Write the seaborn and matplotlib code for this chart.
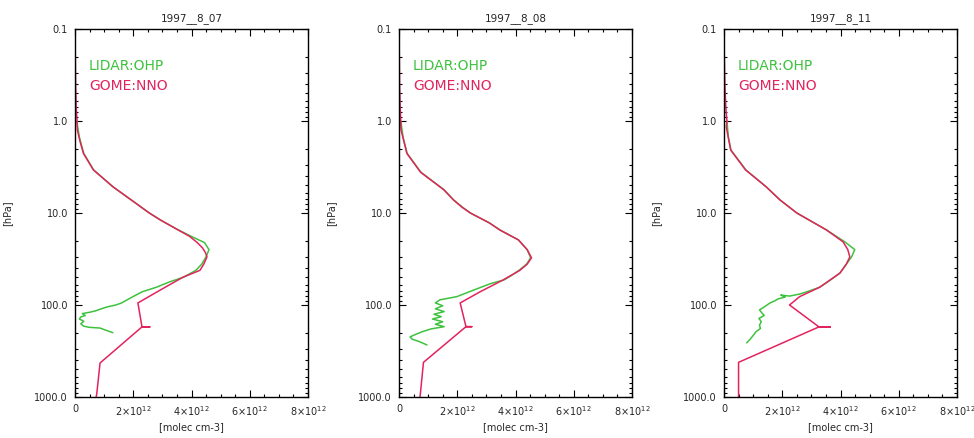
import numpy as np
import pandas as pd
import matplotlib
matplotlib.use('Agg')
import matplotlib.pyplot as plt
import seaborn as sns
from matplotlib.ticker import LogLocator, NullFormatter, MultipleLocator

# dates of the three profiles
dates = ['1997__8_07', '1997__8_08', '1997__8_11']

# GOME:NNO profiles (pressure hPa, ozone number density in 1e12 molec cm-3)
gome_p_0807 = [0.1, 0.2, 0.4, 0.7, 1.0, 1.25, 1.7, 2.25, 3.4, 5.2, 7.8, 10, 12, 18, 21, 24, 27, 30,
               36, 42, 50, 69, 95, 173, 173, 173, 427, 905, 1000]
gome_v_0807 = [0.0, 0.01, 0.02, 0.04, 0.07, 0.08, 0.18, 0.29, 0.63, 1.31, 2.08, 2.55, 2.95, 3.94, 4.2,
               4.38, 4.48, 4.53, 4.42, 4.29, 3.70, 2.92, 2.16, 2.30, 2.57, 2.30, 0.86, 0.75, 0.73]

gome_p_0808 = [0.1, 0.2, 0.4, 0.7, 1.0, 1.25, 2.25, 3.6, 5.6, 7.2, 8.6, 10, 12.8, 15.3, 19.6, 25,
               30.7, 36, 42, 53.5, 72, 95, 172, 172, 172, 420, 950, 1000]
gome_v_0808 = [0.0, 0.01, 0.02, 0.04, 0.06, 0.07, 0.27, 0.74, 1.54, 1.87, 2.15, 2.45, 3.1, 3.46, 4.1,
               4.4, 4.55, 4.4, 4.15, 3.57, 2.78, 2.1, 2.3, 2.5, 2.3, 0.84, 0.73, 0.72]

gome_p_0811 = [0.1, 0.2, 0.4, 0.7, 1.0, 1.17, 2.07, 3.4, 5.2, 7.2, 10, 15.3, 20.6, 25, 30, 36, 45,
               64, 81, 100, 173, 173, 173, 420, 1000]
gome_v_0811 = [0.0, 0.01, 0.03, 0.06, 0.1, 0.08, 0.23, 0.74, 1.45, 1.92, 2.5, 3.52, 4.09, 4.25, 4.32,
               4.2, 3.98, 3.29, 2.6, 2.25, 3.26, 3.65, 3.26, 0.5, 0.5]

# LIDAR:OHP profiles
lidar_p_0807 = [1.0, 1.5, 2.25, 3.4, 5.2, 7.8, 10, 12, 15, 18, 21, 25, 30, 36, 42, 50, 56, 64, 72,
                84, 95, 100, 105, 110, 116, 120, 124, 130, 135, 142, 150, 160, 170, 175, 178, 190, 200]
lidar_v_0807 = [0.06, 0.15, 0.30, 0.64, 1.30, 2.08, 2.55, 2.95, 3.5, 4.0, 4.45, 4.6, 4.5, 4.35, 4.15,
                3.72, 3.25, 2.8, 2.3, 1.9, 1.6, 1.4, 1.1, 0.9, 0.7, 0.5, 0.25, 0.35, 0.2, 0.15, 0.3,
                0.2, 0.3, 0.5, 0.86, 1.1, 1.3]

lidar_p_0808 = [1.0, 1.5, 2.25, 3.6, 5.6, 7.2, 8.6, 10, 12.8, 15.3, 19.6, 25, 30.7, 36, 42, 48, 53.5,
                58.6, 68.7, 81, 88, 95, 102, 110, 118, 126, 134, 142, 152, 162, 172, 182, 195, 210,
                222, 235, 250, 272]
lidar_v_0808 = [0.06, 0.14, 0.28, 0.75, 1.55, 1.87, 2.17, 2.45, 3.1, 3.47, 4.1, 4.4, 4.52, 4.38, 4.12,
                3.85, 3.6, 3.14, 2.57, 1.99, 1.40, 1.25, 1.50, 1.25, 1.55, 1.20, 1.45, 1.15, 1.50,
                1.25, 1.55, 1.10, 0.80, 0.55, 0.38, 0.45, 0.70, 0.96]

lidar_p_0811 = [1.0, 1.5, 2.07, 3.4, 5.2, 7.2, 10, 15.3, 20.6, 25, 30, 36, 45, 55, 64, 70, 76, 80, 78,
                82, 86, 90, 95, 104, 113, 122, 130, 140, 152, 165, 180, 195, 215, 235, 258]
lidar_v_0811 = [0.1, 0.15, 0.24, 0.75, 1.45, 1.92, 2.5, 3.52, 4.15, 4.49, 4.38, 4.2, 3.98, 3.6, 3.29,
                2.95, 2.6, 2.25, 1.95, 2.1, 1.85, 1.75, 1.58, 1.40, 1.22, 1.30, 1.38, 1.20, 1.28,
                1.22, 1.25, 1.10, 1.00, 0.90, 0.78]

gome_p = [gome_p_0807, gome_p_0808, gome_p_0811]
gome_v = [gome_v_0807, gome_v_0808, gome_v_0811]
lidar_p = [lidar_p_0807, lidar_p_0808, lidar_p_0811]
lidar_v = [lidar_v_0807, lidar_v_0808, lidar_v_0811]

p_ticks = [0.1, 1, 10, 100, 1000]
p_labels = ['0.1', '1.0', '10.0', '100.0', '1000.0']
x_ticks = [0, 2e12, 4e12, 6e12, 8e12]
x_labels = ['0', r'$2{\times}10^{12}$', r'$4{\times}10^{12}$', r'$6{\times}10^{12}$', r'$8{\times}10^{12}$']

green = '#3ec23e'
red = '#e2245e'

sns.set_style('ticks')
plt.rcParams['font.family'] = ['DejaVu Sans']
plt.rcParams['mathtext.fontset'] = 'dejavusans'

fig = plt.figure(figsize=(9.74, 4.38), dpi=100)
lefts = [75, 399, 724]

for i in range(3):
    ax = fig.add_axes([lefts[i] / 974, 41 / 438, 233 / 974, 368 / 438])
    lid = pd.DataFrame({'n': np.array(lidar_v[i]) * 1e12, 'p': lidar_p[i]})
    gom = pd.DataFrame({'n': np.array(gome_v[i]) * 1e12, 'p': gome_p[i]})
    sns.lineplot(data=lid, x='n', y='p', sort=False, estimator=None, color=green, lw=1.1, ax=ax)
    sns.lineplot(data=gom, x='n', y='p', sort=False, estimator=None, color=red, lw=1.1, ax=ax)

    ax.set_yscale('log')
    ax.set_ylim(1000, 0.1)
    ax.set_xlim(0, 8e12)
    ax.set_yticks(p_ticks)
    ax.set_yticklabels(p_labels)
    ax.yaxis.set_minor_locator(LogLocator(base=10, subs=np.arange(2, 10)))
    ax.yaxis.set_minor_formatter(NullFormatter())
    ax.set_xticks(x_ticks)
    ax.set_xticklabels(x_labels)
    ax.xaxis.set_minor_locator(MultipleLocator(0.5e12))
    ax.tick_params(which='both', direction='in', top=True, right=True, labelsize=7, color='black',
                   width=0.8, pad=5)
    ax.tick_params(which='major', length=5)
    ax.tick_params(which='minor', length=2.5)
    for s in ax.spines.values():
        s.set_linewidth(1.0)
        s.set_color('black')

    ax.set_title(dates[i], fontsize=7.5, pad=6)
    ax.set_xlabel('[molec cm-3]', fontsize=7, labelpad=3)
    ax.set_ylabel('[hPa]', fontsize=7)
    ax.yaxis.set_label_coords(-0.27, 0.5)

    ax.text(0.06, 0.90, 'LIDAR:OHP', color=green, fontsize=10, transform=ax.transAxes, va='center')
    ax.text(0.06, 0.845, 'GOME:NNO', color=red, fontsize=10, transform=ax.transAxes, va='center')

fig.savefig('out.png', dpi=100, facecolor='white')
